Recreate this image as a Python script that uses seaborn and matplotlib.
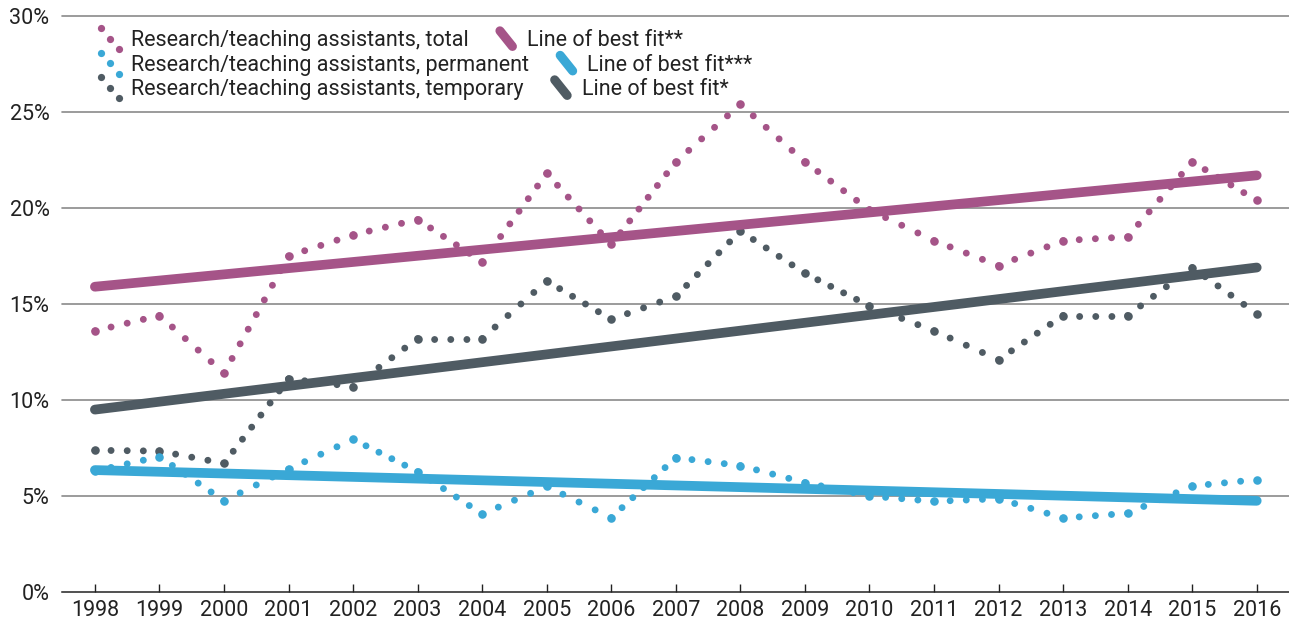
import numpy as np
import pandas as pd
import matplotlib
matplotlib.use("Agg")
import matplotlib.pyplot as plt
import seaborn as sns
from matplotlib.lines import Line2D
from matplotlib.legend_handler import HandlerBase

# ---------------- data ----------------
years = [1998, 1999, 2000, 2001, 2002, 2003, 2004, 2005, 2006, 2007,
         2008, 2009, 2010, 2011, 2012, 2013, 2014, 2015, 2016]
total = [13.6, 14.4, 11.4, 17.5, 18.6, 19.4, 17.2, 21.8, 18.1, 22.4,
         25.4, 22.4, 19.9, 18.3, 17.0, 18.3, 18.5, 22.4, 20.4]
permanent = [6.3, 7.05, 4.75, 6.4, 7.95, 6.27, 4.06, 5.5, 3.87, 7.0,
             6.58, 5.7, 5.0, 4.72, 4.86, 3.85, 4.1, 5.52, 5.85]
temporary = [7.38, 7.34, 6.7, 11.1, 10.7, 13.2, 13.2, 16.2, 14.2, 15.4,
             18.8, 16.6, 14.9, 13.6, 12.1, 14.4, 14.4, 16.9, 14.5]
fit_years = [1998, 2016]
fit_total = [15.9, 21.7]
fit_permanent = [6.35, 4.75]
fit_temporary = [9.5, 16.9]

labels_series = ["Research/teaching assistants, total",
                 "Research/teaching assistants, permanent",
                 "Research/teaching assistants, temporary"]
labels_fit = ["Line of best fit**", "Line of best fit***", "Line of best fit*"]
yticks = [0, 5, 10, 15, 20, 25, 30]
ytick_labels = ["0%", "5%", "10%", "15%", "20%", "25%", "30%"]

PINK = "#A55488"
BLUE = "#3AA8D6"
GRAY = "#4F5B63"
TXT = "#222222"

sns.set_theme(style="white")
plt.rcParams["font.family"] = ["Roboto", "DejaVu Sans"]
FS = 15.5

fig = plt.figure(figsize=(12.89, 6.24), dpi=100)
ax = fig.add_axes([62 / 1289, 1 - 592 / 624, 1 - 62 / 1289, (592 - 16) / 624])
XLIM = (1997.49, 2016.5)
YLIM = (0, 30)
ax.set_xlim(*XLIM)
ax.set_ylim(*YLIM)

LW = 5.0
px_per_lw = LW * fig.dpi / 72.0
DOT_SPACING_PX = 16.0

series = [(total, PINK), (temporary, GRAY), (permanent, BLUE)]
for vals, col in series:
    for i in range(len(years) - 1):
        p0 = ax.transData.transform((years[i], vals[i]))
        p1 = ax.transData.transform((years[i + 1], vals[i + 1]))
        L = float(np.hypot(*(p1 - p0)))
        n = max(1, int(round(L / DOT_SPACING_PX)))
        gap = L / n / px_per_lw
        seg = pd.DataFrame({"year": years[i:i + 2], "value": vals[i:i + 2]})
        sns.lineplot(data=seg, x="year", y="value", ax=ax, color=col, lw=LW,
                     linestyle=(0, (0.001, gap - 0.001)), dash_capstyle="round",
                     zorder=3)
    sns.scatterplot(x=years, y=vals, ax=ax, color=col, s=38, linewidth=0,
                    zorder=3.1)

fits = [(fit_total, PINK), (fit_temporary, GRAY), (fit_permanent, BLUE)]
for vals, col in fits:
    df = pd.DataFrame({"year": fit_years, "value": vals})
    sns.lineplot(data=df, x="year", y="value", ax=ax, color=col, lw=7,
                 solid_capstyle="round", zorder=4)

ax.set_xlim(*XLIM)
ax.set_ylim(*YLIM)
ax.set_xlabel("")
ax.set_ylabel("")
ax.set_xticks(years)
ax.set_xticklabels([str(y) for y in years], fontsize=FS, color=TXT)
ax.set_yticks(yticks)
ax.set_yticklabels(ytick_labels, fontsize=FS, color=TXT)
ax.tick_params(axis="x", direction="in", length=6, width=1, color=TXT, pad=6, bottom=True)
ax.tick_params(axis="y", length=0, pad=9)
for s in ["top", "right", "left"]:
    ax.spines[s].set_visible(False)
ax.spines["bottom"].set_color(TXT)
ax.spines["bottom"].set_linewidth(1.1)
for y in yticks[1:]:
    ax.axhline(y, color="#8a8a8a", lw=1.2, zorder=1, clip_on=False)
ax.grid(False)


class DiagHandler(HandlerBase):
    def __init__(self, color, kind):
        super().__init__()
        self.color = color
        self.kind = kind

    def create_artists(self, legend, orig_handle, xdescent, ydescent,
                       width, height, fontsize, trans):
        x0 = -xdescent + 0.1 * width
        x1 = -xdescent + 0.9 * width
        y0 = -ydescent + 1.05 * height
        y1 = -ydescent - 0.05 * height
        if self.kind == "dots":
            ln = Line2D([x0, (x0 + x1) / 2, x1], [y0, (y0 + y1) / 2, y1],
                        linestyle="none", marker="o", markersize=5.2,
                        markeredgewidth=0, color=self.color)
        else:
            ln = Line2D([x0 + 2, x1 - 2], [y0 - 2, y1 + 2], lw=6.5,
                        solid_capstyle="round", color=self.color)
        ln.set_transform(trans)
        return [ln]


rows = [(labels_series[0], labels_fit[0], PINK, 40),
        (labels_series[1], labels_fit[1], BLUE, 64.5),
        (labels_series[2], labels_fit[2], GRAY, 89)]
for lab_s, lab_f, col, ypx in rows:
    h1 = Line2D([], [], color=col)
    h2 = Line2D([], [], color=col, lw=3)
    leg = fig.legend([h1, h2], [lab_s, lab_f], ncol=2,
                     loc="center left", bbox_to_anchor=(99 / 1289, 1 - ypx / 624),
                     frameon=False, fontsize=FS, borderpad=0, borderaxespad=0,
                     handlelength=1.05, handleheight=1.0, handletextpad=0.45,
                     columnspacing=1.2,
                     handler_map={h1: DiagHandler(col, "dots"),
                                  h2: DiagHandler(col, "bar")})
    for t in leg.get_texts():
        t.set_color(TXT)

fig.savefig("out.png", dpi=100)
